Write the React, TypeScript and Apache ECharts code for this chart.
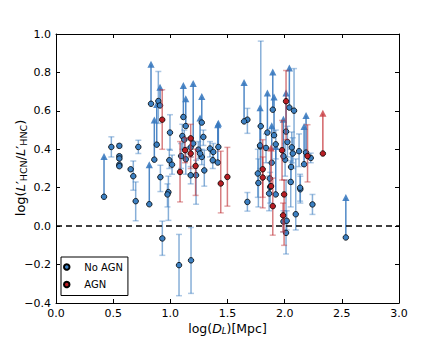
import React, { useEffect, useRef } from "react";
import * as echarts from "echarts";

// x ticks: log(D_L) [Mpc]; y ticks: log(L'HCN/L'HNC)
const xTicks = [0, 0.5, 1, 1.5, 2, 2.5, 3];
const yTicks = [-0.4, -0.2, 0, 0.2, 0.4, 0.6, 0.8, 1.0];

// No AGN, measured: [x, y, yLow, yHigh]
const noAgnErr: number[][] = [
  [0.484, 0.412, 0.36, 0.465], [0.554, 0.418, 0.408, 0.428], [0.554, 0.364, 0.356, 0.372],
  [0.554, 0.352, 0.346, 0.358], [0.554, 0.32, 0.315, 0.325], [0.554, 0.312, 0.306, 0.318],
  [0.72, 0.412, 0.378, 0.447], [0.653, 0.296, 0.29, 0.3], [0.676, 0.26, 0.187, 0.339],
  [0.697, 0.13, 0.028, 0.23], [0.913, 0.255, 0.18, 0.317], [0.93, -0.064, -0.152, 0.026],
  [0.983, 0.177, 0.03, 0.26], [0.975, 0.165, 0.1, 0.22], [1.076, -0.203, -0.362, -0.043],
  [1.181, -0.178, -0.35, -0.007], [0.991, 0.343, 0.3, 0.4], [1.015, 0.32, 0.27, 0.37],
  [0.997, 0.487, 0.395, 0.58], [0.895, 0.651, 0.535, 0.805], [1.105, 0.469, 0.4, 0.53],
  [1.122, 0.45, 0.4, 0.5], [1.094, 0.365, 0.3, 0.43], [1.135, 0.348, 0.27, 0.41],
  [1.178, 0.41, 0.36, 0.46], [1.178, 0.265, 0.22, 0.31], [1.225, 0.265, 0.114, 0.343],
  [1.245, 0.398, 0.35, 0.44], [1.275, 0.36, 0.32, 0.4], [1.289, 0.464, 0.42, 0.5],
  [1.297, 0.29, 0.208, 0.395], [1.347, 0.404, 0.36, 0.44], [1.376, 0.386, 0.33, 0.43],
  [1.371, 0.343, 0.3, 0.38], [1.674, 0.126, 0.078, 0.175], [1.674, 0.554, 0.483, 0.613],
  [1.791, 0.52, 0.29, 0.963], [1.787, 0.415, 0.3, 0.52], [1.77, 0.225, 0.1, 0.35],
  [1.765, 0.274, 0.15, 0.4], [1.837, 0.407, 0.33, 0.48], [1.922, 0.426, 0.35, 0.5],
  [1.87, 0.248, 0.17, 0.33], [1.873, 0.204, 0.12, 0.28], [1.864, 0.17, 0.08, 0.26],
  [2.004, 0.346, 0.26, 0.43], [2.024, 0.438, 0.36, 0.52], [2.082, 0.601, 0.38, 0.82],
  [2.062, 0.41, 0.33, 0.49], [2.071, 0.378, 0.3, 0.46], [2.056, 0.308, 0.22, 0.4],
  [2.053, 0.23, 0.1, 0.34], [1.989, 0.024, -0.03, 0.08], [2.018, 0.028, -0.02, 0.08],
  [2.012, -0.035, -0.145, 0.24], [2.097, 0.062, -0.02, 0.35], [2.137, 0.192, 0.12, 0.26],
  [2.126, 0.39, 0.31, 0.48], [2.228, 0.355, 0.33, 0.38], [2.135, 0.2, 0.13, 0.27],
  [2.243, 0.113, 0.061, 0.165],
];

// No AGN, lower limits: [x, y, arrowTop]
const noAgnLim: number[][] = [
  [0.42, 0.153, 0.36], [0.816, 0.114, 0.317], [0.86, 0.346, 0.55], [0.881, 0.424, 0.63],
  [0.831, 0.637, 0.84], [0.91, 0.628, 0.72], [1.114, 0.568, 0.73], [1.135, 0.521, 0.66],
  [1.2, 0.43, 0.74], [1.275, 0.539, 0.672], [1.26, 0.378, 0.56], [1.415, 0.331, 0.525],
  [1.42, 0.412, 0.533], [1.645, 0.545, 0.745], [1.896, 0.606, 0.8], [1.849, 0.487, 0.69],
  [1.785, 0.42, 0.614], [1.907, 0.473, 0.67], [2.012, 0.492, 0.69], [2.041, 0.617, 0.82],
  [2.535, -0.059, 0.147], [2.187, 0.383, 0.573], [2.17, 0.322, 0.516], [1.989, 0.364, 0.554],
  [1.887, 0.33, 0.52], [1.922, 0.165, 0.412],
];

// AGN, measured: [x, y, yLow, yHigh]
const agnErr: number[][] = [
  [0.929, 0.554, 0.4, 0.71], [1.085, 0.282, 0.126, 0.44], [1.221, 0.313, 0.16, 0.4],
  [1.178, 0.457, 0.36, 0.53], [1.129, 0.395, 0.33, 0.46], [1.178, 0.378, 0.3, 0.45],
  [1.441, 0.222, 0.069, 0.39], [1.499, 0.256, 0.104, 0.41], [1.808, 0.296, 0.095, 0.45],
  [1.808, 0.253, 0.15, 0.36], [1.896, 0.104, -0.047, 0.25], [1.995, 0.165, -0.1, 0.24],
  [1.986, 0.056, -0.03, 0.12], [2.012, 0.65, 0.45, 0.81], [1.977, 0.395, 0.24, 0.55],
  [2.2, 0.365, 0.23, 0.528],
];

// AGN, lower limits: [x, y, arrowTop]
const agnLim: number[][] = [
  [2.334, 0.378, 0.585], [1.881, 0.208, 0.404],
];

const BLUE = "#3c80c2";
const BLUE_BAR = "rgba(62,126,192,0.62)";
const BLUE_CAP = "rgba(62,126,192,0.42)";
const BLUE_ARROW = "rgba(55,120,190,0.88)";
const RED = "#b81e24";
const RED_BAR = "rgba(190,45,50,0.62)";
const RED_CAP = "rgba(190,45,50,0.42)";
const RED_ARROW = "rgba(200,60,65,0.8)";

function errSeries(data: number[][], bar: string, cap: string, z: number) {
  return {
    type: "custom",
    data,
    z,
    silent: true,
    encode: { x: 0, y: [1, 2, 3] },
    renderItem: (_p: any, api: any) => {
      const x = api.value(0);
      const a = api.coord([x, api.value(2)]);
      const b = api.coord([x, api.value(3)]);
      const w = 3;
      return {
        type: "group",
        children: [
          { type: "line", shape: { x1: a[0], y1: a[1], x2: b[0], y2: b[1] }, style: { stroke: bar, lineWidth: 1.5 } },
          { type: "line", shape: { x1: a[0] - w, y1: a[1], x2: a[0] + w, y2: a[1] }, style: { stroke: cap, lineWidth: 1.5 } },
          { type: "line", shape: { x1: b[0] - w, y1: b[1], x2: b[0] + w, y2: b[1] }, style: { stroke: cap, lineWidth: 1.5 } },
        ],
      };
    },
  };
}

function limSeries(data: number[][], color: string, z: number) {
  return {
    type: "custom",
    data,
    z,
    silent: true,
    encode: { x: 0, y: [1, 2] },
    renderItem: (_p: any, api: any) => {
      const x = api.value(0);
      const a = api.coord([x, api.value(1)]);
      const b = api.coord([x, api.value(2)]);
      return {
        type: "group",
        children: [
          { type: "line", shape: { x1: a[0], y1: a[1], x2: b[0], y2: b[1] }, style: { stroke: color, lineWidth: 1.5 } },
          {
            type: "polygon",
            shape: { points: [[b[0], b[1] - 4], [b[0] - 3.6, b[1] + 3], [b[0] + 3.6, b[1] + 3]] },
            style: { fill: color },
          },
        ],
      };
    },
  };
}

const fmt = (v: number) => (v < 0 ? "\u2212" + Math.abs(v).toFixed(1) : v.toFixed(1));

export default function App() {
  const ref = useRef<HTMLDivElement>(null);
  useEffect(() => {
    document.body.style.margin = "0";
    const chart = echarts.init(ref.current!, null, { renderer: "svg" });
    const FONT = "DejaVu Sans";
    const axisCommon = {
      axisLine: { show: true, onZero: false, lineStyle: { color: "#000", width: 1 } },
      axisTick: { show: true, inside: true, length: 4, lineStyle: { color: "#000", width: 1 } },
      splitLine: { show: false },
    };
    const blueXY = [...noAgnErr.map((d) => [d[0], d[1]]), ...noAgnLim.map((d) => [d[0], d[1]])];
    const redXY = [...agnErr.map((d) => [d[0], d[1]]), ...agnLim.map((d) => [d[0], d[1]])];
    chart.setOption({
      animation: false,
      backgroundColor: "#fff",
      textStyle: { fontFamily: FONT },
      grid: { left: 56, right: 44, top: 34, bottom: 43 },
      xAxis: [
        {
          type: "value", min: xTicks[0], max: xTicks[xTicks.length - 1], interval: 0.5, position: "bottom",
          ...axisCommon,
          axisLabel: { color: "#000", fontSize: 11, fontFamily: FONT, margin: 5, formatter: fmt },
        },
        {
          type: "value", min: 0, max: 3, interval: 0.5, position: "top",
          ...axisCommon, axisLabel: { show: false },
        },
      ],
      yAxis: [
        {
          type: "value", min: yTicks[0], max: yTicks[yTicks.length - 1], interval: 0.2, position: "left",
          ...axisCommon,
          axisLabel: { color: "#000", fontSize: 11, fontFamily: FONT, margin: 5, formatter: fmt },
        },
        {
          type: "value", min: -0.4, max: 1.0, interval: 0.2, position: "right",
          ...axisCommon, axisLabel: { show: false },
        },
      ],
      legend: {
        orient: "vertical",
        left: 61,
        top: 257,
        data: ["No AGN", "AGN"],
        icon: "circle",
        itemWidth: 25,
        itemHeight: 5.5,
        itemGap: 5.5,
        padding: [4, 5, 5, 2],
        borderColor: "#000",
        borderWidth: 1,
        borderRadius: 0,
        backgroundColor: "#fff",
        textStyle: { fontSize: 10, fontFamily: FONT, color: "#000", lineHeight: 12 },
        selectedMode: false,
      },
      series: [
        errSeries(noAgnErr, BLUE_BAR, BLUE_CAP, 2),
        limSeries(noAgnLim, BLUE_ARROW, 2),
        {
          name: "No AGN",
          type: "scatter",
          data: blueXY,
          z: 3,
          symbolSize: 5.5,
          itemStyle: { color: BLUE, borderColor: "#000", borderWidth: 0.8, opacity: 1 },
          markLine: {
            silent: true,
            symbol: "none",
            label: { show: false },
            lineStyle: { color: "#000", width: 1.5, type: [6, 4] },
            data: [{ yAxis: 0 }],
          },
        },
        errSeries(agnErr, RED_BAR, RED_CAP, 4),
        limSeries(agnLim, RED_ARROW, 4),
        {
          name: "AGN",
          type: "scatter",
          data: redXY,
          z: 5,
          symbolSize: 5.5,
          itemStyle: { color: RED, borderColor: "#000", borderWidth: 0.8, opacity: 1 },
        },
      ],
      graphic: [
        {
          type: "text",
          x: 227.5,
          y: 328,
          style: {
            text: "{n|log(}{i|D}{s|L}{n|)[Mpc]}",
            align: "center",
            verticalAlign: "middle",
            rich: {
              n: { fontSize: 12.5, fontFamily: FONT, fill: "#000", lineHeight: 14 },
              i: { fontSize: 12.5, fontFamily: FONT, fontStyle: "italic", fill: "#000", lineHeight: 14 },
              s: { fontSize: 8.5, fontFamily: FONT, fontStyle: "italic", fill: "#000", lineHeight: 9, verticalAlign: "bottom" },
            },
          },
        },
        {
          type: "text",
          x: 20,
          y: 168,
          rotation: Math.PI / 2,
          style: {
            text: "{n|log(}{i|L}{n|\u2032}{s|HCN}{n|/}{i|L}{n|\u2032}{s|HNC}{n|)}",
            align: "center",
            verticalAlign: "middle",
            rich: {
              n: { fontSize: 13, fontFamily: FONT, fill: "#000", lineHeight: 17 },
              i: { fontSize: 13, fontFamily: FONT, fontStyle: "italic", fill: "#000", lineHeight: 17 },
              s: { fontSize: 9.5, fontFamily: FONT, fill: "#000", lineHeight: 11, verticalAlign: "bottom" },
            },
          },
        },
      ],
    });
    return () => chart.dispose();
  }, []);
  return <div ref={ref} style={{ width: 443, height: 346 }} />;
}
